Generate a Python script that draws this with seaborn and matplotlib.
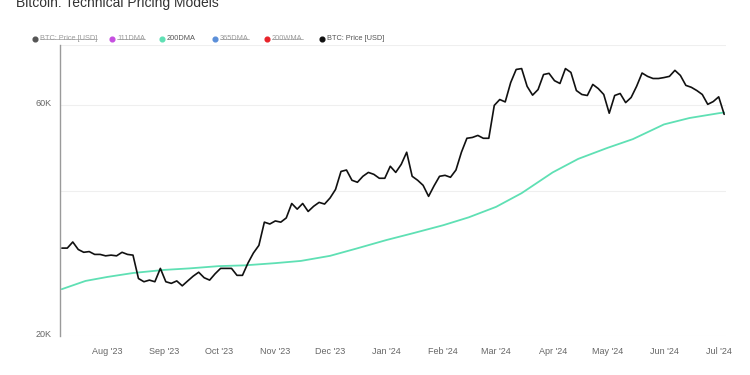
import pandas as pd
import numpy as np
import matplotlib
matplotlib.use("Agg")
import matplotlib.pyplot as plt
import matplotlib.dates as mdates
import matplotlib.transforms as mtransforms
from matplotlib.ticker import FixedLocator, FixedFormatter, NullLocator
from matplotlib.lines import Line2D
import seaborn as sns

# BTC price, every 3 days from 2023-07-07 (USD)
precio_btc = [
    30400, 30400, 31300, 30200, 29800, 29900, 29500, 29500, 29300, 29400,
    29300, 29800, 29500, 29400, 26300, 25900, 26100, 25900, 27600, 25900,
    25700, 26000, 25400, 26000, 26600, 27100, 26400, 26100, 26900, 27600,
    27600, 27600, 26700, 26700, 28300, 29700, 30800, 34400, 34100, 34600,
    34400, 35100, 37600, 36600, 37600, 36200, 37100, 37800, 37500, 38600,
    40200, 43800, 44100, 42000, 41600, 42800, 43600, 43200, 42400, 42400,
    44900, 43600, 45300, 48000, 42800, 42000, 41000, 38900, 40900, 42800,
    43000, 42600, 44100, 48000, 51300, 51500, 52000, 51300, 51300, 60000,
    61700, 61000, 66900, 71200, 71500, 65700, 63000, 64700, 69500, 69900,
    67500, 66600, 71500, 70200, 64400, 63200, 62900, 66300, 65000, 63200,
    57800, 62900, 63500, 60800, 62300, 65700, 70000, 68900, 68200, 68200,
    68500, 68900, 70900, 69200, 66000, 65400, 64400, 63200, 60300, 61100,
    62500, 57500,
]
fechas_btc = pd.date_range("2023-07-07", periods=len(precio_btc), freq="3D")

# 200-day moving average (USD)
fechas_dma = pd.to_datetime([
    "2023-07-07", "2023-07-20", "2023-08-01", "2023-08-15", "2023-09-01",
    "2023-09-15", "2023-10-01", "2023-10-15", "2023-11-01", "2023-11-15",
    "2023-12-01", "2023-12-15", "2024-01-01", "2024-01-15", "2024-02-01",
    "2024-02-15", "2024-03-01", "2024-03-15", "2024-04-01", "2024-04-15",
    "2024-05-01", "2024-05-15", "2024-06-01", "2024-06-15", "2024-07-01",
    "2024-07-04",
])
dma_200 = [
    25000, 26000, 26500, 27000, 27400, 27600, 27900, 28000, 28300, 28600,
    29300, 30300, 31600, 32600, 33900, 35200, 37000, 39500, 43600, 46500,
    49000, 51100, 54800, 56500, 57800, 58000,
]

y_ticks = [20000, 40000, 60000, 80000]
y_labels = ["20K", "", "60K", ""]

leyenda = [
    ("BTC: Price [USD]", "#555555", True),
    ("111DMA", "#c64fe0", True),
    ("200DMA", "#5fe0b4", False),
    ("365DMA", "#5b8fd9", True),
    ("200WMA", "#e8232a", True),
    ("BTC: Price [USD]", "#111111", False),
]

sns.set_style("white")
plt.rcParams["font.family"] = ["Liberation Sans", "DejaVu Sans"]

fig = plt.figure(figsize=(7.5, 3.75), dpi=100)
ax = fig.add_axes([0.08, 0.104, 0.888, 0.776])

df_btc = pd.DataFrame({"fecha": fechas_btc, "precio": precio_btc})
df_dma = pd.DataFrame({"fecha": fechas_dma, "dma": dma_200})

sns.lineplot(data=df_dma, x="fecha", y="dma", color="#5fe0b4", linewidth=1.3, ax=ax)
sns.lineplot(data=df_btc, x="fecha", y="precio", color="#111111", linewidth=1.2, ax=ax)

ax.set_yscale("log")
ax.set_ylim(20000, 80000)
ax.yaxis.set_major_locator(FixedLocator(y_ticks))
ax.yaxis.set_major_formatter(FixedFormatter(y_labels))
ax.yaxis.set_minor_locator(NullLocator())
ax.set_xlim(pd.Timestamp("2023-07-06"), pd.Timestamp("2024-07-05"))
ax.xaxis.set_major_locator(mdates.MonthLocator())
ax.xaxis.set_major_formatter(mdates.DateFormatter("%b '%y"))

ax.grid(axis="y", color="#efefef", linewidth=0.8)
ax.grid(axis="x", visible=False)
for lado in ["top", "right", "bottom"]:
    ax.spines[lado].set_visible(False)
ax.spines["left"].set_color("#9a9a9a")
ax.spines["left"].set_linewidth(1.0)
ax.tick_params(axis="y", length=0, labelsize=6.5, labelcolor="#666666", pad=6)
ax.tick_params(axis="x", length=6, width=0.6, color="#e6e6e6", labelsize=6.5,
               labelcolor="#666666", pad=2)
ax.set_xlabel("")
ax.set_ylabel("")

# y labels sit a little above their gridlines
desplaza = mtransforms.ScaledTranslation(0, 2.5 / 100, fig.dpi_scale_trans)
for lbl in ax.get_yticklabels():
    lbl.set_transform(lbl.get_transform() + desplaza)

fig.text(16 / 750, 1 - 7.5 / 375, "Bitcoin: Technical Pricing Models",
         fontsize=10, color="#333333", va="baseline", ha="left")

# legend
pos_x = [35, 112, 162, 215, 267, 322]
renderer = fig.canvas.get_renderer()
for (nombre, color, oculto), px in zip(leyenda, pos_x):
    fy = 1 - 39 / 375
    fig.add_artist(Line2D([px / 750], [fy], marker="o", markersize=3.4,
                          color=color, linestyle="none", transform=fig.transFigure))
    t = fig.text((px + 5) / 750, fy, nombre, fontsize=5.3,
                 color="#9a9a9a" if oculto else "#555555", va="center", ha="left")
    if oculto:
        bb = t.get_window_extent(renderer=renderer).transformed(fig.transFigure.inverted())
        ym = (bb.y0 + bb.y1) / 2
        fig.add_artist(Line2D([bb.x0, bb.x1], [ym, ym], color="#9a9a9a",
                              linewidth=0.5, transform=fig.transFigure))

plt.savefig("out.png", dpi=100)
plt.close(fig)
